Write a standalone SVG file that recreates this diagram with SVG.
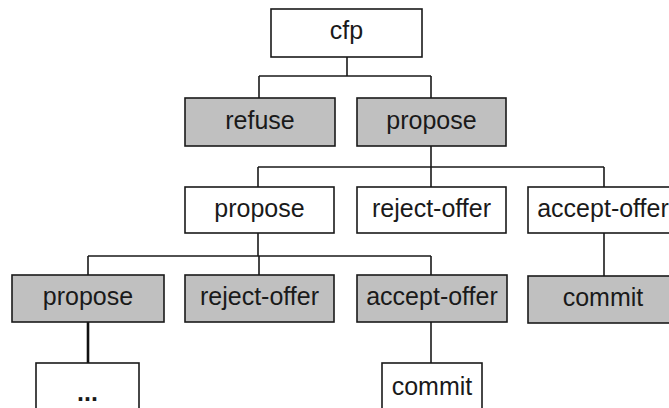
<svg xmlns="http://www.w3.org/2000/svg" width="669" height="408" viewBox="0 0 669 408">
  <style>
    .box { fill: #ffffff; stroke: #1a1a1a; stroke-width: 1.6; }
    .shaded { fill: #c0c0c0; }
    .label { font-family: "Liberation Sans", Arial, sans-serif; font-size: 25px; fill: #1a1a1a; text-anchor: middle; }
    .link { fill: none; stroke: #1a1a1a; stroke-width: 1.6; }
    .link-bold { fill: none; stroke: #111111; stroke-width: 2.6; }
  </style>
  <rect width="669" height="408" fill="#ffffff"/>

  <g id="connectors">
    <!-- cfp to replies -->
    <path class="link" d="M347 57 V76 M259 76 H431 M259 76 V98 M431 76 V98"/>
    <!-- propose to buyer responses -->
    <path class="link" d="M431 146 V167 M258 167 H604 M258 167 V187 M431 167 V187 M604 167 V187"/>
    <!-- counter-propose to seller responses -->
    <path class="link" d="M258 233 V256 M88 256 H431 M88 256 V275 M259 256 V275 M431 256 V275"/>
    <!-- accept-offer to commit -->
    <path class="link" d="M604 233 V276"/>
    <path class="link-bold" d="M88 322 V363"/>
    <path class="link" d="M431 322 V363"/>
  </g>

  <g id="cfp">
    <rect class="box" x="271" y="9" width="151" height="48"/>
    <text class="label" x="346.5" y="39">cfp</text>
  </g>

  <g id="refuse">
    <rect class="box shaded" x="185" y="98" width="150" height="48"/>
    <text class="label" x="260" y="129">refuse</text>
  </g>
  <g id="propose-1">
    <rect class="box shaded" x="357" y="98" width="149" height="48"/>
    <text class="label" x="431.5" y="129">propose</text>
  </g>

  <g id="propose-2">
    <rect class="box" x="185" y="187" width="149" height="46"/>
    <text class="label" x="259.5" y="217">propose</text>
  </g>
  <g id="reject-offer-1">
    <rect class="box" x="357" y="187" width="149" height="46"/>
    <text class="label" x="431.5" y="217">reject-offer</text>
  </g>
  <g id="accept-offer-1">
    <rect class="box" x="528" y="187" width="150" height="46"/>
    <text class="label" x="603" y="217">accept-offer</text>
  </g>

  <g id="propose-3">
    <rect class="box shaded" x="12" y="275" width="152" height="47"/>
    <text class="label" x="88" y="305">propose</text>
  </g>
  <g id="reject-offer-2">
    <rect class="box shaded" x="185" y="275" width="149" height="47"/>
    <text class="label" x="259.5" y="305">reject-offer</text>
  </g>
  <g id="accept-offer-2">
    <rect class="box shaded" x="357" y="275" width="150" height="47"/>
    <text class="label" x="432" y="305">accept-offer</text>
  </g>
  <g id="commit-1">
    <rect class="box shaded" x="528" y="276" width="150" height="47"/>
    <text class="label" x="603" y="306">commit</text>
  </g>

  <g id="ellipsis">
    <rect class="box" x="36" y="363" width="103" height="60"/>
    <text class="label" x="87.5" y="401" font-weight="bold">...</text>
  </g>
  <g id="commit-2">
    <rect class="box" x="382" y="363" width="100" height="60"/>
    <text class="label" x="432" y="395">commit</text>
  </g>
</svg>
